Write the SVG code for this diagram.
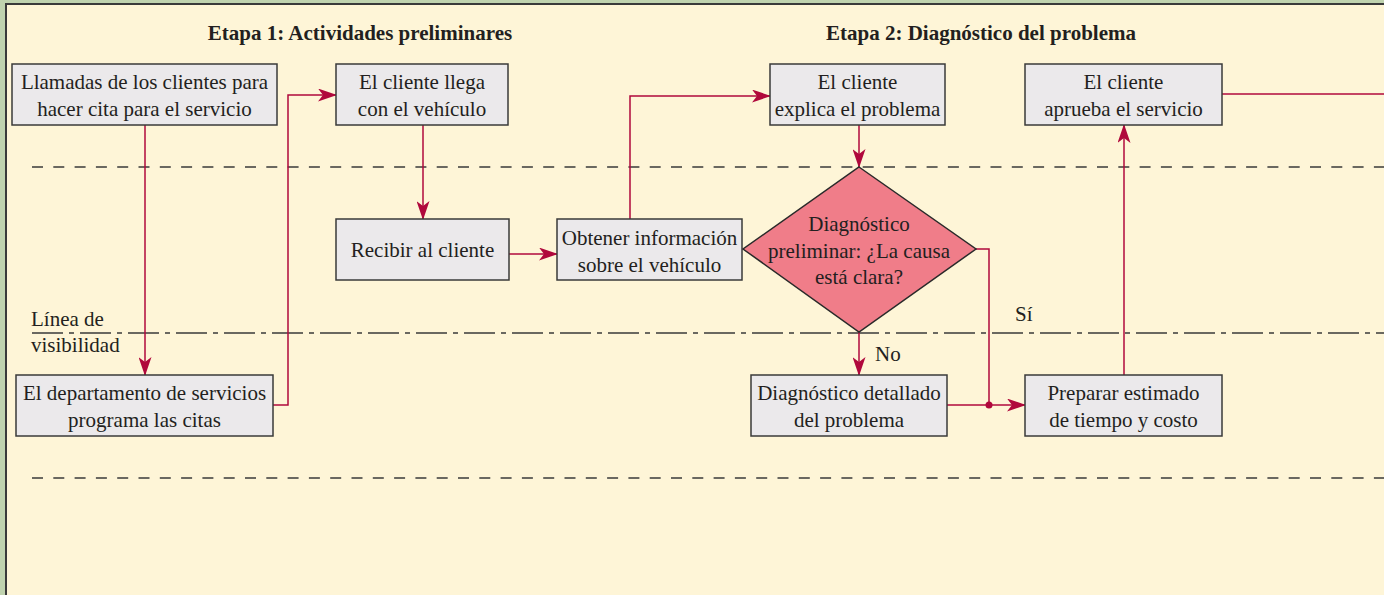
<svg xmlns="http://www.w3.org/2000/svg" width="1384" height="595" viewBox="0 0 1384 595">
<style>
.box{fill:#EBE9EB;stroke:#3a3a3a;stroke-width:1.5}
.dia{fill:#F07D89;stroke:#2a2a2a;stroke-width:1.5}
.t{font-family:"Liberation Serif","Times New Roman",serif;font-size:21px;fill:#231F20;text-anchor:middle}
.tl{font-family:"Liberation Serif","Times New Roman",serif;font-size:21px;fill:#231F20}
.h{font-family:"Liberation Serif","Times New Roman",serif;font-size:21px;font-weight:bold;fill:#231F20;text-anchor:middle}
.c{fill:none;stroke:#B0083C;stroke-width:1.5}
.dash{stroke:#3a3a3a;stroke-width:1.5;stroke-dasharray:11 10.3;fill:none}
.dd{stroke:#3a3a3a;stroke-width:1.5;stroke-dasharray:31 6 5 6;fill:none}
</style>
<defs>
<marker id="ar" viewBox="0 0 19 13" refX="18" refY="6.5" markerWidth="19" markerHeight="13" markerUnits="userSpaceOnUse" orient="auto">
<path d="M0,0 L19,6.5 L0,13 L5,6.5 z" fill="#B0083C"/>
</marker>
</defs>
<rect x="0" y="0" width="1384" height="595" fill="#C0D3AF"/>
<rect x="6" y="4" width="1390" height="600" fill="#FEF5D7" stroke="#3a3a3a" stroke-width="2"/>
<g id="lanes">
<line class="dash" x1="32" y1="167" x2="1384" y2="167"/>
<line class="dd" x1="32" y1="333" x2="1384" y2="333"/>
<line class="dash" x1="32" y1="478" x2="1384" y2="478"/>
<text class="tl" x="31" y="326">Línea de</text>
<text class="tl" x="31" y="352">visibilidad</text>
</g>
<g id="titles">
<text class="h" x="360" y="40">Etapa 1: Actividades preliminares</text>
<text class="h" x="981" y="40">Etapa 2: Diagnóstico del problema</text>
</g>
<g id="connectors">
<path class="c" d="M145,125 V375" marker-end="url(#ar)"/>
<path class="c" d="M273,405 H288 V95 H336" marker-end="url(#ar)"/>
<path class="c" d="M423,125 V219" marker-end="url(#ar)"/>
<path class="c" d="M509,254 H557" marker-end="url(#ar)"/>
<path class="c" d="M630,219 V96 H770" marker-end="url(#ar)"/>
<path class="c" d="M859,125 V167" marker-end="url(#ar)"/>
<path class="c" d="M859,332 V375" marker-end="url(#ar)"/>
<path class="c" d="M976,249 H989 V405"/>
<path class="c" d="M947,405 H1025" marker-end="url(#ar)"/>
<circle cx="989" cy="405" r="3.5" fill="#B0083C"/>
<path class="c" d="M1124,375 V125" marker-end="url(#ar)"/>
<path class="c" d="M1222,94 H1384"/>
<text class="tl" x="875" y="361">No</text>
<text class="tl" x="1015" y="321">Sí</text>
</g>
<g id="n1"><rect class="box" x="12" y="64" width="265" height="61"/>
<text class="t" x="144.5" y="89">Llamadas de los clientes para</text>
<text class="t" x="144.5" y="116">hacer cita para el servicio</text></g>
<g id="n2"><rect class="box" x="336" y="64" width="172" height="61"/>
<text class="t" x="422" y="89">El cliente llega</text>
<text class="t" x="422" y="116">con el vehículo</text></g>
<g id="n3"><rect class="box" x="770" y="64" width="175" height="61"/>
<text class="t" x="857.5" y="89">El cliente</text>
<text class="t" x="857.5" y="116">explica el problema</text></g>
<g id="n4"><rect class="box" x="1025" y="64" width="197" height="61"/>
<text class="t" x="1123.5" y="89">El cliente</text>
<text class="t" x="1123.5" y="116">aprueba el servicio</text></g>
<g id="n5"><rect class="box" x="336" y="219" width="173" height="61"/>
<text class="t" x="422.5" y="257">Recibir al cliente</text></g>
<g id="n6"><rect class="box" x="557" y="219" width="185" height="61"/>
<text class="t" x="649.5" y="245">Obtener información</text>
<text class="t" x="649.5" y="272">sobre el vehículo</text></g>
<g id="n7"><path class="dia" d="M859,167 L976,249 L859,332 L743,249 Z"/>
<text class="t" x="859" y="231">Diagnóstico</text>
<text class="t" x="859" y="258">preliminar: ¿La causa</text>
<text class="t" x="859" y="284">está clara?</text></g>
<g id="n8"><rect class="box" x="16" y="375" width="257" height="61"/>
<text class="t" x="144.5" y="400">El departamento de servicios</text>
<text class="t" x="144.5" y="427">programa las citas</text></g>
<g id="n9"><rect class="box" x="751" y="375" width="196" height="61"/>
<text class="t" x="849" y="400">Diagnóstico detallado</text>
<text class="t" x="849" y="427">del problema</text></g>
<g id="n10"><rect class="box" x="1025" y="375" width="197" height="61"/>
<text class="t" x="1123.5" y="400">Preparar estimado</text>
<text class="t" x="1123.5" y="427">de tiempo y costo</text></g>
</svg>
